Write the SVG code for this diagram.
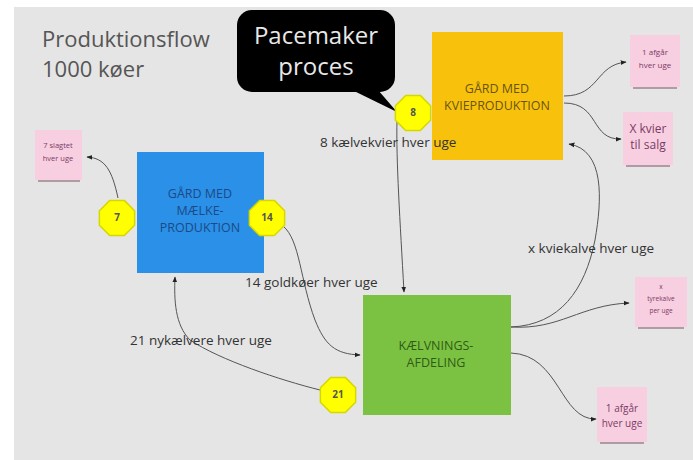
<svg xmlns="http://www.w3.org/2000/svg" width="693" height="460" viewBox="0 0 693 460">
<defs>
<style>
.t{font-family:"Open Sans","Liberation Sans",sans-serif}
.lbl{font-family:"Open Sans","Liberation Sans",sans-serif;font-size:13.5px;fill:#333}
.box{font-family:"Open Sans","Liberation Sans",sans-serif;font-size:12.5px;text-anchor:middle}
.pk{fill:#f8cfe0}
.pt{font-family:"Open Sans","Liberation Sans",sans-serif;text-anchor:middle;fill:#7a3a66}
.sh{stroke:#8a6a78;stroke-width:2;opacity:0.6}
.oct{fill:#ffff00;stroke:#d6d600;stroke-width:1.5}
.on{font-family:"Open Sans","Liberation Sans",sans-serif;font-size:10px;font-weight:bold;text-anchor:middle;fill:#555}
.c{fill:none;stroke:#555;stroke-width:1}
</style>
<marker id="ah" viewBox="0 0 10 10" refX="9" refY="5" markerWidth="6" markerHeight="6" orient="auto" markerUnits="userSpaceOnUse">
<path d="M0,1 L10,5 L0,9 z" fill="#222"/>
</marker>
<polygon id="og" points="7.3,-17.6 17.6,-7.3 17.6,7.3 7.3,17.6 -7.3,17.6 -17.6,7.3 -17.6,-7.3 -7.3,-17.6"/>
</defs>
<rect x="0" y="0" width="693" height="460" fill="#ffffff"/>
<rect x="14" y="7" width="679" height="453" fill="#e5e5e5"/>

<g id="title">
<text class="t" x="42" y="47" font-size="22" fill="#555">Produktionsflow</text>
<text class="t" x="42" y="77" font-size="22" fill="#555">1000 køer</text>
</g>

<g id="connectors">
<path class="c" d="M397,120 C396,160 400,220 404,292" marker-end="url(#ah)"/>
<path class="c" d="M283,226 C300,240 300,280 315,320 C325,345 335,354 360,355" marker-end="url(#ah)"/>
<path class="c" d="M320,390 C280,380 220,360 190,340 C175,325 174,300 175,277" marker-end="url(#ah)"/>
<path class="c" d="M511,327 C560,325 585,290 595,240 C602,200 605,150 569,144" marker-end="url(#ah)"/>
<path class="c" d="M511,327 C560,330 580,305 629,303" marker-end="url(#ah)"/>
<path class="c" d="M511,353 C560,355 560,420 596,419" marker-end="url(#ah)"/>
<path class="c" d="M564,96 C600,96 595,65 626,62" marker-end="url(#ah)"/>
<path class="c" d="M564,103 C600,103 590,140 621,139" marker-end="url(#ah)"/>
<path class="c" d="M118,198 C112,170 105,158 87,157" marker-end="url(#ah)"/>
</g>

<g id="callout">
<rect x="237" y="10" width="158" height="82" rx="15" fill="#000"/>
<path d="M352,90 L397,112 L378,90 z" fill="#000"/>
<text class="t" x="316" y="44" font-size="24" fill="#e8e8e8" text-anchor="middle">Pacemaker</text>
<text class="t" x="316" y="75" font-size="24" fill="#e8e8e8" text-anchor="middle">proces</text>
</g>

<g id="kvie">
<rect x="432" y="32" width="131" height="128" fill="#f8c20c"/>
<text class="box" x="497" y="93" fill="#6a5410">GÅRD MED</text>
<text class="box" x="497" y="110" fill="#6a5410">KVIEPRODUKTION</text>
</g>

<g id="maelke">
<rect x="137" y="152" width="127" height="121" fill="#2a90e8"/>
<text class="box" x="200" y="198" fill="#1d4a86">GÅRD MED</text>
<text class="box" x="200" y="215" fill="#1d4a86">MÆLKE-</text>
<text class="box" x="200" y="232" fill="#1d4a86">PRODUKTION</text>
</g>

<g id="kaelvning">
<rect x="363" y="295" width="148" height="120" fill="#7cc242"/>
<text class="box" x="436" y="350" fill="#2f5c14" font-size="12">KÆLVNINGS-</text>
<text class="box" x="436" y="367" fill="#2f5c14" font-size="12">AFDELING</text>
</g>

<g id="oct8"><use href="#og" class="oct" transform="translate(413,113)"/><text class="on" x="413" y="116">8</text></g>
<g id="oct7"><use href="#og" class="oct" transform="translate(117,218)"/><text class="on" x="117" y="221">7</text></g>
<g id="oct14"><use href="#og" class="oct" transform="translate(267,218)"/><text class="on" x="267" y="221">14</text></g>
<g id="oct21"><use href="#og" class="oct" transform="translate(338,395)"/><text class="on" x="338" y="398">21</text></g>

<g id="labels">
<text class="lbl" x="320" y="147">8 kælvekvier hver uge</text>
<text class="lbl" x="245" y="287">14 goldkøer hver uge</text>
<text class="lbl" x="130" y="345">21 nykælvere hver uge</text>
<text class="lbl" x="528" y="253">x kviekalve hver uge</text>
</g>

<g id="pink-slagtet">
<rect class="pk" x="35" y="130" width="47" height="50"/>
<line class="sh" x1="38" y1="181" x2="80" y2="181"/>
<text class="pt" x="58" y="148" font-size="7.5">7 slagtet</text>
<text class="pt" x="58" y="161" font-size="7.5">hver uge</text>
</g>
<g id="pink-afgaar1">
<rect class="pk" x="630" y="35" width="50" height="52"/>
<line class="sh" x1="633" y1="88" x2="677" y2="88"/>
<text class="pt" x="655" y="55" font-size="8">1 afgår</text>
<text class="pt" x="655" y="68" font-size="8">hver uge</text>
</g>
<g id="pink-kvier">
<rect class="pk" x="623" y="112" width="50" height="53"/>
<line class="sh" x1="626" y1="166" x2="670" y2="166"/>
<text class="pt" x="648" y="133" font-size="12">X kvier</text>
<text class="pt" x="648" y="149" font-size="12">til salg</text>
</g>
<g id="pink-tyre">
<rect class="pk" x="635" y="277" width="52" height="50"/>
<line class="sh" x1="638" y1="328" x2="684" y2="328"/>
<text class="pt" x="661" y="289" font-size="6.5">x</text>
<text class="pt" x="661" y="301" font-size="6.5">tyrekalve</text>
<text class="pt" x="661" y="313" font-size="6.5">per uge</text>
</g>
<g id="pink-afgaar2">
<rect class="pk" x="597" y="387" width="50" height="55"/>
<line class="sh" x1="600" y1="443" x2="644" y2="443"/>
<text class="pt" x="622" y="412" font-size="10">1 afgår</text>
<text class="pt" x="622" y="427" font-size="10">hver uge</text>
</g>
</svg>
